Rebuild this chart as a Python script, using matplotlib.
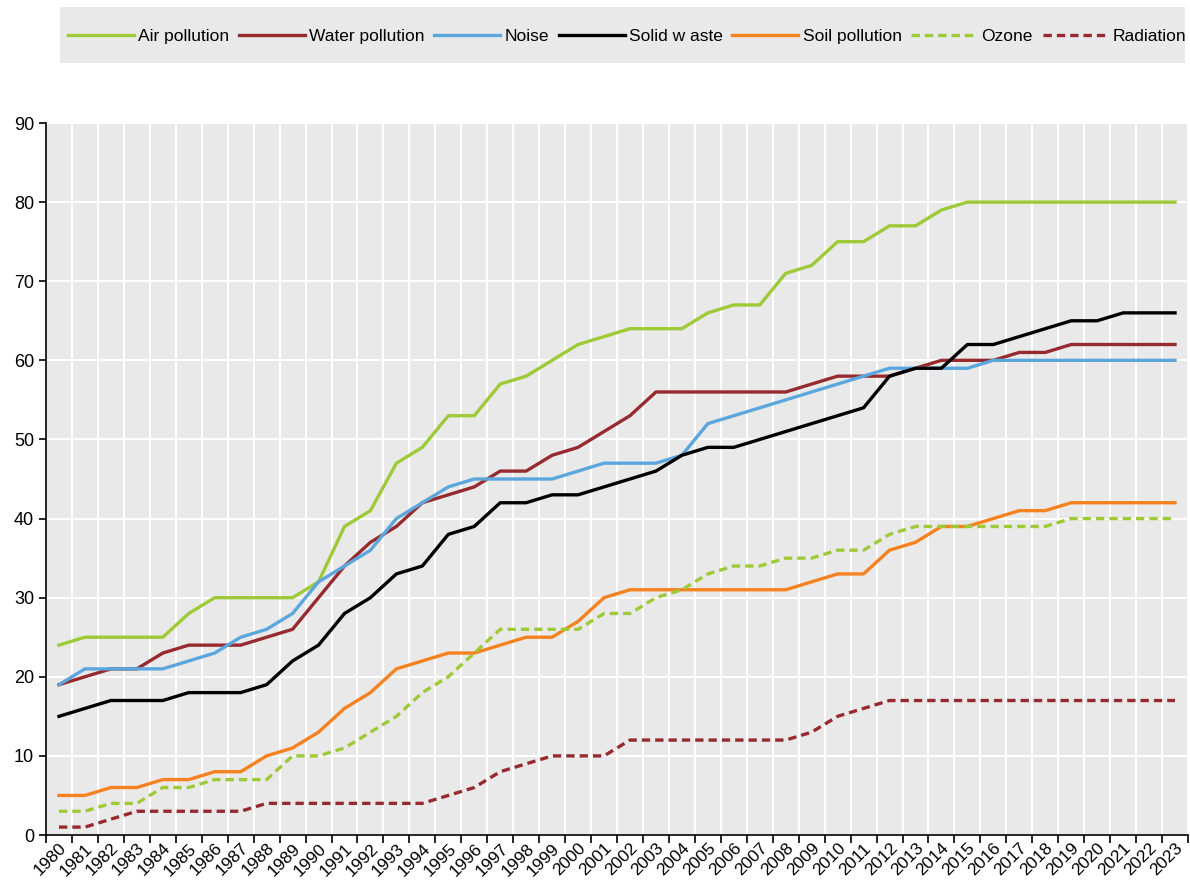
import matplotlib.pyplot as plt
import numpy as np
from matplotlib.patches import Rectangle

years = [str(y) for y in range(1980, 2024)]

air = [24, 25, 25, 25, 25, 28, 30, 30, 30, 30, 32, 39, 41, 47, 49, 53, 53, 57, 58, 60,
       62, 63, 64, 64, 64, 66, 67, 67, 71, 72, 75, 75, 77, 77, 79, 80, 80, 80, 80, 80,
       80, 80, 80, 80]
water = [19, 20, 21, 21, 23, 24, 24, 24, 25, 26, 30, 34, 37, 39, 42, 43, 44, 46, 46, 48,
         49, 51, 53, 56, 56, 56, 56, 56, 56, 57, 58, 58, 58, 59, 60, 60, 60, 61, 61, 62,
         62, 62, 62, 62]
noise = [19, 21, 21, 21, 21, 22, 23, 25, 26, 28, 32, 34, 36, 40, 42, 44, 45, 45, 45, 45,
         46, 47, 47, 47, 48, 52, 53, 54, 55, 56, 57, 58, 59, 59, 59, 59, 60, 60, 60, 60,
         60, 60, 60, 60]
solid = [15, 16, 17, 17, 17, 18, 18, 18, 19, 22, 24, 28, 30, 33, 34, 38, 39, 42, 42, 43,
         43, 44, 45, 46, 48, 49, 49, 50, 51, 52, 53, 54, 58, 59, 59, 62, 62, 63, 64, 65,
         65, 66, 66, 66]
soil = [5, 5, 6, 6, 7, 7, 8, 8, 10, 11, 13, 16, 18, 21, 22, 23, 23, 24, 25, 25,
        27, 30, 31, 31, 31, 31, 31, 31, 31, 32, 33, 33, 36, 37, 39, 39, 40, 41, 41, 42,
        42, 42, 42, 42]
ozone = [3, 3, 4, 4, 6, 6, 7, 7, 7, 10, 10, 11, 13, 15, 18, 20, 23, 26, 26, 26,
         26, 28, 28, 30, 31, 33, 34, 34, 35, 35, 36, 36, 38, 39, 39, 39, 39, 39, 39, 40,
         40, 40, 40, 40]
radiation = [1, 1, 2, 3, 3, 3, 3, 3, 4, 4, 4, 4, 4, 4, 4, 5, 6, 8, 9, 10,
             10, 10, 12, 12, 12, 12, 12, 12, 12, 13, 15, 16, 17, 17, 17, 17, 17, 17, 17, 17,
             17, 17, 17, 17]

plt.rcParams['font.family'] = ['Liberation Sans Narrow', 'Liberation Sans', 'DejaVu Sans']

green = '#9fca37'
darkred = '#962a2e'
blue = '#5ba7dd'
orange = '#f5821f'

W, H = 1190, 881
fig = plt.figure(figsize=(W / 100, H / 100), dpi=100)
ax = fig.add_axes([46 / W, 46 / H, 1142 / W, 712 / H])
ax.set_facecolor('#e9e9e9')

# grey band behind the legend
fig.patches.append(Rectangle((60 / W, 1 - 63 / H), 1125 / W, 56 / H,
                             transform=fig.transFigure, facecolor='#e9e9e9',
                             edgecolor='none', zorder=0))

x = np.arange(len(years))
lw = 2.4
ax.plot(x, air, color=green, lw=lw, label='Air pollution')
ax.plot(x, water, color=darkred, lw=lw, label='Water pollution')
ax.plot(x, noise, color=blue, lw=lw, label='Noise')
ax.plot(x, solid, color='black', lw=lw, label='Solid w aste')
ax.plot(x, soil, color=orange, lw=lw, label='Soil pollution')
ax.plot(x, ozone, color=green, lw=lw, dashes=(2.5, 1.5), label='Ozone')
ax.plot(x, radiation, color=darkred, lw=lw, dashes=(2.5, 1.5), label='Radiation')

ax.set_xlim(-0.5, len(years) - 0.5)
ax.set_ylim(0, 90)
ax.set_yticks(range(0, 91, 10))
ax.tick_params(axis='y', labelsize=13, length=5, width=1.2, direction='out')

ax.set_xticks(x)
ax.set_xticklabels(years, rotation=45, ha='right', rotation_mode='anchor', fontsize=12.5)
ax.tick_params(axis='x', length=0, pad=4)
ax.set_xticks(np.arange(-0.5, len(years), 1), minor=True)
ax.tick_params(axis='x', which='minor', length=6, width=1.2, direction='out')

ax.grid(True, which='minor', axis='x', color='white', lw=1.5)
ax.grid(True, which='major', axis='y', color='white', lw=1.5)
ax.set_axisbelow(True)

for s in ['top', 'right']:
    ax.spines[s].set_visible(False)
for s in ['left', 'bottom']:
    ax.spines[s].set_linewidth(1.2)
    ax.spines[s].set_color('black')

handles, labels = ax.get_legend_handles_labels()
leg = fig.legend(handles, labels, ncol=7, loc='center left',
                 bbox_to_anchor=(68 / W, 1 - 36 / H),
                 frameon=False, fontsize=12.5, handlelength=3.8,
                 handletextpad=0.25, columnspacing=0.55, borderaxespad=0,
                 borderpad=0)

fig.savefig('out.png', dpi=100)
